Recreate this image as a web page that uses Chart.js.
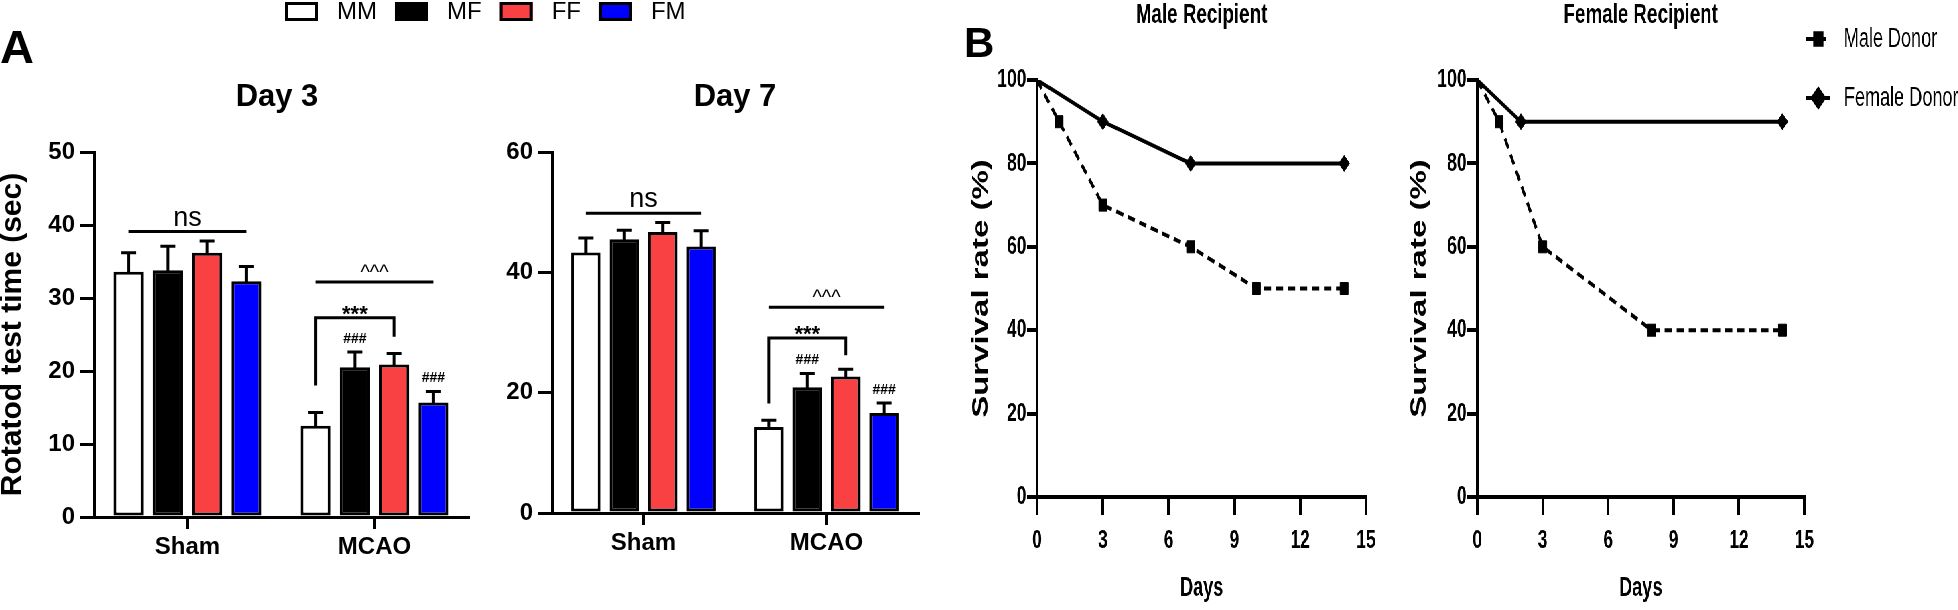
<!DOCTYPE html>
<html>
<head>
<meta charset="utf-8">
<script src="https://cdn.jsdelivr.net/npm/chart.js@4.4.1/dist/chart.umd.min.js"></script>
<style>
html,body{margin:0;padding:0;background:#fff;width:1958px;height:610px;overflow:hidden;}
canvas{position:absolute;top:0;}
#panelB{position:absolute;left:950px;top:0;width:1505px;height:610px;transform:scaleX(0.67);transform-origin:0 0;}
.letter{position:absolute;font-family:"Liberation Sans",Arial,Helvetica,sans-serif;font-weight:bold;line-height:1;color:#000;}
</style>
</head>
<body>
<canvas id="day3" width="720" height="610" style="left:0"></canvas>
<canvas id="day7" width="460" height="610" style="left:490px"></canvas>
<div id="panelB">
  <canvas id="maleRec" width="680" height="610" style="left:0"></canvas>
  <canvas id="femaleRec" width="845" height="610" style="left:660px"></canvas>
</div>
<div class="letter" style="left:0;top:23px;font-size:47px">A</div>
<div class="letter" style="left:964px;top:22px;font-size:42px">B</div>
<script>
const FONT = '"Liberation Sans", Arial, Helvetica, sans-serif';

// ---------------- Panel A data ----------------
const groups = ['Sham', 'MCAO'];
const seriesNames = ['MM', 'MF', 'FF', 'FM'];
const seriesColors = ['#FFFFFF', '#000000', '#F94144', '#0000FF'];

const day3MM = [33.6, 12.5];
const day3MF = [33.8, 20.5];
const day3FF = [36.2, 20.9];
const day3FM = [32.3, 15.7];
const day3MMerr = [2.6, 1.8];
const day3MFerr = [3.3, 2.1];
const day3FFerr = [1.6, 1.5];
const day3FMerr = [2.0, 1.5];
const day3YTicks = [0, 10, 20, 30, 40, 50];

const day7MM = [43.3, 14.3];
const day7MF = [45.5, 20.9];
const day7FF = [46.7, 22.7];
const day7FM = [44.3, 16.6];
const day7MMerr = [2.4, 1.1];
const day7MFerr = [1.5, 2.3];
const day7FFerr = [1.6, 1.2];
const day7FMerr = [2.6, 1.7];
const day7YTicks = [0, 20, 40, 60];

// significance bar levels (in axis units)
const day3Sig = { ns: 39.1, caret: 32.2, star: 27.3, starLeft: 18.0, starRight: 24.7 };
const day7Sig = { ns: 49.8, caret: 34.2, star: 29.1, starLeft: 18.2, starRight: 26.2 };

// ---------------- Panel B data ----------------
const survivalXTicks = [0, 3, 6, 9, 12, 15];
const survivalYTicks = [0, 20, 40, 60, 80, 100];
const donorNames = ['Male Donor', 'Female Donor'];
const maleRecMaleDonorDays = [0, 1, 3, 7, 10, 14];
const maleRecMaleDonorRate = [100, 90, 70, 60, 50, 50];
const maleRecFemaleDonorDays = [0, 3, 7, 14];
const maleRecFemaleDonorRate = [100, 90, 80, 80];
const femaleRecMaleDonorDays = [0, 1, 3, 8, 14];
const femaleRecMaleDonorRate = [100, 90, 60, 40, 40];
const femaleRecFemaleDonorDays = [0, 2, 14];
const femaleRecFemaleDonorRate = [100, 90, 90];

// ---------------- plugins ----------------
const errorBars = {
  id: 'errorBars',
  afterDatasetsDraw(chart) {
    const ctx = chart.ctx, y = chart.scales.y;
    ctx.save();
    ctx.strokeStyle = '#000'; ctx.lineWidth = 3;
    chart.data.datasets.forEach((ds, i) => {
      const meta = chart.getDatasetMeta(i);
      meta.data.forEach((bar, j) => {
        const top = y.getPixelForValue(ds.data[j]);
        const e = y.getPixelForValue(ds.data[j] + ds.errors[j]);
        ctx.beginPath();
        ctx.moveTo(bar.x, top + 1); ctx.lineTo(bar.x, e);
        ctx.moveTo(bar.x - 7.5, e); ctx.lineTo(bar.x + 7.5, e);
        ctx.stroke();
      });
    });
    ctx.restore();
  }
};

const sigMarks = {
  id: 'sigMarks',
  afterDatasetsDraw(chart, args, o) {
    if (!o || o.ns === undefined) return;
    const ctx = chart.ctx, y = chart.scales.y;
    const bx = (i, j) => chart.getDatasetMeta(i).data[j].x;
    const py = v => y.getPixelForValue(v);
    ctx.save();
    ctx.strokeStyle = '#000'; ctx.fillStyle = '#000'; ctx.lineWidth = 3;
    ctx.textAlign = 'center'; ctx.textBaseline = 'alphabetic';
    // ns over Sham
    let yy = py(o.ns);
    ctx.beginPath(); ctx.moveTo(bx(0, 0), yy); ctx.lineTo(bx(3, 0), yy); ctx.stroke();
    ctx.font = '27px ' + FONT;
    ctx.fillText('ns', (bx(0, 0) + bx(3, 0)) / 2, yy - 6);
    // ^^^ over MCAO
    yy = py(o.caret);
    ctx.beginPath(); ctx.moveTo(bx(0, 1), yy); ctx.lineTo(bx(3, 1), yy); ctx.stroke();
    ctx.font = '20px ' + FONT;
    ctx.fillText('^^^', (bx(0, 1) + bx(3, 1)) / 2, yy - 3);
    // *** bracket MM - FF
    const ys = py(o.star);
    ctx.beginPath();
    ctx.moveTo(bx(0, 1), py(o.starLeft)); ctx.lineTo(bx(0, 1), ys);
    ctx.lineTo(bx(2, 1), ys); ctx.lineTo(bx(2, 1), py(o.starRight));
    ctx.stroke();
    ctx.font = 'bold 22px ' + FONT;
    ctx.fillText('***', (bx(0, 1) + bx(2, 1)) / 2, ys + 3.5);
    // ### over MF and FM (MCAO)
    ctx.font = 'bold 14px ' + FONT; ctx.textBaseline = 'middle';
    [1, 3].forEach(i => {
      const ds = chart.data.datasets[i];
      const e = py(ds.data[1] + ds.errors[1]);
      ctx.fillText('###', bx(i, 1), e - 13);
    });
    ctx.restore();
  }
};

const panelTitle = {
  id: 'panelTitle',
  afterDraw(chart, args, o) {
    if (!o || !o.text) return;
    const ctx = chart.ctx, ca = chart.chartArea;
    ctx.save();
    ctx.fillStyle = '#000'; ctx.font = o.font;
    ctx.textAlign = 'center'; ctx.textBaseline = 'middle';
    ctx.fillText(o.text, (ca.left + ca.right) / 2 + (o.dx || 0), o.y);
    ctx.restore();
  }
};

const barLegend = {
  id: 'barLegend',
  afterDraw(chart, args, o) {
    if (!o || !o.display) return;
    const ctx = chart.ctx;
    let x = o.x; const y = o.y;
    ctx.save();
    ctx.font = '24px ' + FONT;
    chart.data.datasets.forEach(ds => {
      ctx.fillStyle = ds.backgroundColor;
      ctx.fillRect(x, y - 9.5, 33, 19);
      ctx.strokeStyle = '#000'; ctx.lineWidth = 3;
      ctx.strokeRect(x + 1.5, y - 8, 30, 16);
      ctx.fillStyle = '#000'; ctx.textAlign = 'left'; ctx.textBaseline = 'middle';
      ctx.fillText(ds.label, x + 52, y + 1);
      x += 52 + ctx.measureText(ds.label).width + 18;
    });
    ctx.restore();
  }
};

const lineLegend = {
  id: 'lineLegend',
  afterDraw(chart, args, o) {
    if (!o || !o.display) return;
    const ctx = chart.ctx;
    ctx.save();
    chart.data.datasets.forEach((ds, i) => {
      const y = o.ys[i];
      ctx.strokeStyle = '#000'; ctx.fillStyle = '#000'; ctx.lineWidth = 4;
      ctx.setLineDash(ds.borderDash || []);
      ctx.beginPath(); ctx.moveTo(o.cx - 18, y); ctx.lineTo(o.cx + 18, y); ctx.stroke();
      ctx.setLineDash([]);
      Chart.helpers.drawPoint(ctx, { pointStyle: ds.pointStyle, rotation: 0, radius: ds.legendRadius, borderWidth: 1 }, o.cx, y);
      ctx.font = '27px ' + FONT; ctx.textAlign = 'left'; ctx.textBaseline = 'middle';
      ctx.fillText(ds.label, o.tx, y + 1);
    });
    ctx.restore();
  }
};

// ---------------- builders ----------------
function barChart(id, means, errs, yTicks, geo, sig, title, yTitle, legend) {
  const datasets = seriesNames.map((name, i) => ({
    label: name, data: means[i], errors: errs[i],
    backgroundColor: seriesColors[i], borderColor: '#000', borderWidth: 3, borderSkipped: false,
    categoryPercentage: 0.84, barPercentage: 0.77
  }));
  const tickFont = { family: FONT, size: 24, weight: 'bold' };
  return new Chart(document.getElementById(id), {
    type: 'bar',
    data: { labels: groups, datasets },
    options: {
      responsive: false, animation: false, events: [],
      layout: { padding: { top: geo.top, right: geo.right, left: 0, bottom: 0 } },
      plugins: {
        legend: { display: false }, tooltip: { enabled: false },
        panelTitle: { text: title, y: geo.titleY, dx: geo.titleDx, font: 'bold 31px ' + FONT },
        barLegend: legend, sigMarks: sig
      },
      scales: {
        x: {
          offset: true,
          grid: { display: true, drawOnChartArea: false, offset: false, color: '#000', lineWidth: 3, tickLength: 12 },
          border: { display: true, color: '#000', width: 3 },
          ticks: { color: '#000', font: tickFont, padding: 4, maxRotation: 0, autoSkip: false },
          afterFit: s => { s.height = geo.xh; }
        },
        y: {
          min: yTicks[0], max: yTicks[yTicks.length - 1],
          afterBuildTicks: s => { s.ticks = yTicks.map(v => ({ value: v })); },
          grid: { display: true, drawOnChartArea: false, color: '#000', lineWidth: 3, tickLength: 14 },
          border: { display: true, color: '#000', width: 3 },
          ticks: { color: '#000', font: tickFont, padding: 5 },
          title: { display: !!yTitle, text: yTitle, color: '#000', font: { family: FONT, size: 30, weight: 'bold', lineHeight: 1 }, padding: { top: -2, bottom: 0 } },
          afterFit: s => { s.width = geo.yw; }
        }
      }
    },
    plugins: [errorBars, sigMarks, panelTitle, barLegend]
  });
}

function pts(xs, ys) { return xs.map((x, i) => ({ x, y: ys[i] })); }

function survivalChart(id, maleDays, maleRate, femDays, femRate, geo, title, legend) {
  const tickFont = { family: FONT, size: 26, weight: 'bold' };
  const datasets = [
    { label: donorNames[0], data: pts(maleDays, maleRate), borderColor: '#000', backgroundColor: '#000',
      borderWidth: 4, borderDash: [11, 7], pointStyle: 'rect', legendRadius: 8,
      pointRadius: c => c.dataIndex === 0 ? 0 : 8.5, pointBackgroundColor: '#000', pointBorderColor: '#000', pointBorderWidth: 1,
      tension: 0, fill: false },
    { label: donorNames[1], data: pts(femDays, femRate), borderColor: '#000', backgroundColor: '#000',
      borderWidth: 4, borderDash: [], pointStyle: 'rectRot', legendRadius: 9,
      pointRadius: c => c.dataIndex === 0 ? 0 : 8, pointBackgroundColor: '#000', pointBorderColor: '#000', pointBorderWidth: 1,
      tension: 0, fill: false }
  ];
  return new Chart(document.getElementById(id), {
    type: 'line',
    data: { datasets },
    options: {
      responsive: false, animation: false, events: [],
      layout: { padding: { top: geo.top, right: geo.right, left: 0, bottom: 0 } },
      plugins: {
        legend: { display: false }, tooltip: { enabled: false },
        panelTitle: { text: title, y: 15, dx: 0, font: 'bold 28px ' + FONT },
        lineLegend: legend
      },
      scales: {
        x: {
          type: 'linear', min: survivalXTicks[0], max: survivalXTicks[survivalXTicks.length - 1],
          afterBuildTicks: s => { s.ticks = survivalXTicks.map(v => ({ value: v })); },
          grid: { display: true, drawOnChartArea: false, color: '#000', lineWidth: 4, tickLength: 18 },
          border: { display: true, color: '#000', width: 4 },
          ticks: { color: '#000', font: tickFont, padding: 10, maxRotation: 0 },
          title: { display: true, text: 'Days', color: '#000', font: { family: FONT, size: 27, weight: 'bold' }, padding: { top: 0, bottom: 5 } },
          afterFit: s => { s.height = geo.xh; }
        },
        y: {
          min: survivalYTicks[0], max: survivalYTicks[survivalYTicks.length - 1],
          afterBuildTicks: s => { s.ticks = survivalYTicks.map(v => ({ value: v })); },
          grid: { display: true, drawOnChartArea: false, color: '#000', lineWidth: 4, tickLength: 15 },
          border: { display: true, color: '#000', width: 4 },
          ticks: { color: '#000', font: tickFont, padding: 1 },
          title: { display: true, text: 'Survival rate (%)', color: '#000', font: { family: FONT, size: 33, weight: 'bold', lineHeight: 1 }, padding: { top: geo.titlePad, bottom: 0 } },
          afterFit: s => { s.width = geo.yw; }
        }
      }
    },
    plugins: [panelTitle, lineLegend]
  });
}

// ---------------- draw ----------------
barChart('day3',
  [day3MM, day3MF, day3FF, day3FM], [day3MMerr, day3MFerr, day3FFerr, day3FMerr], day3YTicks,
  { top: 152, right: 252, xh: 93, yw: 94, titleY: 97, titleDx: -4 },
  day3Sig, 'Day 3', 'Rotatod test time (sec)',
  { display: true, x: 285, y: 11.5 });

barChart('day7',
  [day7MM, day7MF, day7FF, day7FM], [day7MMerr, day7MFerr, day7FFerr, day7FMerr], day7YTicks,
  { top: 152, right: 32, xh: 97, yw: 62, titleY: 97, titleDx: 0 },
  day7Sig, 'Day 7', '',
  { display: false });

survivalChart('maleRec', maleRecMaleDonorDays, maleRecMaleDonorRate, maleRecFemaleDonorDays, maleRecFemaleDonorRate,
  { top: 80, right: 59, xh: 113, yw: 130, titlePad: 30 }, 'Male Recipient', { display: false });

survivalChart('femaleRec', femaleRecMaleDonorDays, femaleRecMaleDonorRate, femaleRecFemaleDonorDays, femaleRecFemaleDonorRate,
  { top: 80, right: 230, xh: 113, yw: 127, titlePad: 24 }, 'Female Recipient',
  { display: true, cx: 636, tx: 674, ys: [39, 98] });
</script>
</body>
</html>
